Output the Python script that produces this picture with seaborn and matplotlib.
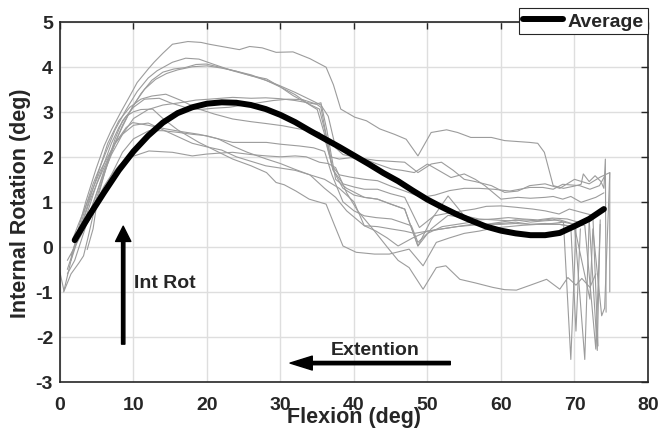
import matplotlib
matplotlib.use('agg')

import numpy as np
import pandas as pd
import matplotlib.pyplot as plt
import seaborn as sns

# individual trials (flexion deg, internal rotation deg)
t1_x = [0.5, 1.5, 2.5, 3.5, 4.9, 6.0, 7.0, 8.3, 9.5, 10.5, 12.0, 12.8, 14.0, 15.3, 17.4, 19.2, 20.3, 22.0, 24.4, 25.8,
        27.5, 29.4, 31.7, 34.0, 36.2, 37.2, 38.2, 40.1, 41.7, 43.5, 45.5, 47.1, 48.7, 50.5, 52.6, 54.1, 55.9, 58.7,
        60.5, 63.9, 65.0, 65.9, 67.1, 68.5, 70.0, 70.9, 71.2, 72.0, 72.8, 73.6, 74.0, 74.2, 74.3]
t1_y = [-1.0, -0.3, 0.4, 1.0, 1.73, 2.24, 2.6, 3.0, 3.35, 3.65, 3.95, 4.1, 4.3, 4.5, 4.56, 4.54, 4.5, 4.45, 4.38, 4.45,
        4.42, 4.32, 4.33, 4.18, 3.99, 3.6, 3.06, 2.88, 2.8, 2.62, 2.5, 2.39, 2.02, 2.54, 2.6, 2.54, 2.43, 2.43,
        2.36, 2.32, 2.3, 2.1, 1.36, 1.3, 1.35, 1.39, 1.62, 1.45, 1.58, 1.45, 1.3, 1.95, -1.45]

t2_x = [1.5, 2.5, 3.5, 4.5, 6, 7.5, 9, 10.5, 12, 13.2, 15.3, 17.1, 18.9, 20.8, 23.5, 26, 28.1, 30, 31.7, 33.5, 35.3,
        36.0, 36.8, 38, 39.5, 41.4, 43, 45, 46.9, 48.7, 50.5, 51.9, 53.5, 55, 56.5, 58.7, 60.5, 62.3, 63.9, 66, 68,
        70, 72, 73.5, 74.8, 74.8]
t2_y = [-0.2, 0.3, 0.9, 1.4, 2.0, 2.6, 3.05, 3.45, 3.75, 3.91, 4.1, 4.19, 4.17, 4.06, 3.91, 3.8, 3.73, 3.55, 3.36, 3.2,
        3.06, 2.6, 2.0, 1.95, 1.98, 1.96, 1.92, 1.9, 1.88, 1.65, 1.84, 1.88, 1.7, 1.5, 1.45, 1.36, 1.21, 1.24, 1.36,
        1.4, 1.3, 1.5, 1.4, 1.55, 1.65, -1.0]

t3_x = [1.0, 2, 3, 4, 5, 6.5, 8, 9.5, 11, 12.5, 14, 15.5, 17, 18.5, 19.9, 22, 24, 26, 28, 29.9, 32, 34.4, 35.5, 36.5,
        37.5, 38.5, 40, 41.4, 43, 45.1, 46.5, 48.2, 50, 51.5, 53.2, 55, 56.5, 57.8, 60, 62.3, 64, 66, 67.1, 68.4,
        69.5, 70.9, 72.9, 74]
t3_y = [-0.5, 0.0, 0.5, 1.0, 1.4, 1.95, 2.5, 3.0, 3.4, 3.7, 3.88, 3.95, 3.98, 4.05, 4.06, 3.98, 3.9, 3.8, 3.7, 3.58,
        3.43, 3.24, 3.15, 2.9, 2.2, 2.05, 2.0, 1.95, 1.85, 1.73, 1.7, 1.65, 1.84, 1.7, 1.54, 1.62, 1.5, 1.36, 1.06,
        1.1, 1.08, 1.1, 1.12, 1.06, 1.12, 0.99, 1.1, 1.2]

t4_x = [2, 3, 4, 5, 6, 7, 8.5, 10, 11.5, 13, 14.5, 16, 18, 20, 22, 24, 26, 28, 30, 32, 34, 35, 36, 37, 38, 39.5, 41.4,
        43.2, 45, 46.9, 49.2, 51, 53, 55, 57, 59, 61.2, 63.9, 65.7, 67.1, 68.4, 70.7, 72.1, 73.4, 74.2]
t4_y = [0.1, 0.4, 0.6, 1.1, 1.6, 2.1, 2.7, 3.15, 3.5, 3.72, 3.85, 3.93, 4.0, 4.02, 3.97, 3.9, 3.82, 3.7, 3.55, 3.38,
        3.15, 3.05, 2.5, 1.8, 1.6, 1.55, 1.5, 1.47, 1.35, 1.24, 1.1, 1.15, 1.25, 1.3, 1.3, 1.28, 1.24, 1.32, 1.32,
        1.28, 1.39, 1.36, 1.28, 1.36, 1.6]

t5_x = [1.5, 2.5, 3.5, 4.5, 5.5, 6.5, 8, 9.5, 11, 12.5, 14.4, 16.5, 18.9, 21, 23.5, 26, 28, 30.3, 32.5, 35.3, 36.2,
        37.2, 38.5, 40, 41.4, 43.2, 45, 46.9, 48.9, 50.9, 53.2, 56.4, 58, 60, 62, 64.3, 66, 67.9, 69.3, 71.1, 72.5,
        73.2]
t5_y = [-0.3, 0.2, 0.8, 1.3, 1.8, 2.3, 2.8, 3.1, 3.28, 3.35, 3.39, 3.25, 3.06, 2.95, 2.84, 2.78, 2.74, 2.69, 2.62,
        2.54, 2.3, 1.7, 1.4, 1.33, 1.28, 1.28, 1.18, 1.1, 0.43, 0.69, 0.76, 0.84, 0.9, 0.91, 0.88, 0.84, 0.8, 0.73,
        0.84, 0.76, 0.7, -2.2]

t6_x = [2, 3, 4, 5, 6, 7, 8.5, 10, 12, 14, 16.7, 18.5, 20.3, 23.5, 26, 28, 30, 32, 34.8, 35.5, 36.3, 37.5, 39, 41.4,
        43.2, 45, 46.9, 48.7, 50.5, 52.8, 55, 57, 59, 61, 63, 65, 67, 68.5, 69.5, 70.2]
t6_y = [0.0, 0.3, 0.75, 1.2, 1.65, 2.05, 2.5, 2.85, 3.05, 3.15, 3.21, 3.26, 3.28, 3.32, 3.3, 3.31, 3.29, 3.25, 3.17,
        3.2, 2.6, 1.5, 1.3, 1.1, 1.06, 0.95, 0.84, 0.02, 0.6, 1.13, 0.69, 0.62, 0.6, 0.58, 0.6, 0.58, 0.62, 0.55,
        -2.5, 0.4]

t7_x = [1.0, 2, 3, 4, 5, 6, 7.5, 9, 9.9, 12, 14.4, 16.5, 18.9, 21, 23.5, 26, 28.1, 30, 32.6, 34.5, 36, 37, 38.5, 40,
        41.4, 43, 45.1, 47.8, 48.7, 50, 52, 54, 56, 58, 60, 62, 64, 66, 68, 70, 71.4, 72]
t7_y = [-0.6, -0.3, 0.2, 0.7, 1.2, 1.7, 2.3, 2.65, 2.76, 2.7, 2.62, 2.56, 2.5, 2.42, 2.32, 2.32, 2.32, 2.28, 2.24,
        2.2, 2.12, 1.6, 1.0, 0.8, 0.69, 0.65, 0.62, 0.47, 0.1, 0.3, 0.45, 0.5, 0.55, 0.5, 0.55, 0.6, 0.55, 0.58, 0.6,
        0.5, -2.5, 0.6]

t8_x = [2, 3, 4, 5, 6, 7, 8.5, 10, 12.1, 14, 16.2, 18, 19.9, 21.5, 23.5, 25.5, 28.1, 30, 32, 34, 36, 37.5, 39, 41.4,
        43, 44.5, 46, 48, 50, 52, 54, 56, 58, 60, 62, 64, 66, 68, 69.5, 70.2, 70.8]
t8_y = [0.1, 0.35, 0.6, 0.9, 1.25, 1.6, 2.1, 2.4, 2.58, 2.58, 2.54, 2.5, 2.47, 2.4, 2.24, 2.1, 1.95, 1.85, 1.72, 1.6,
        1.3, 1.1, 0.8, 0.47, 0.35, 0.2, 0.02, 0.2, 0.35, 0.4, 0.45, 0.5, 0.5, 0.52, 0.55, 0.5, 0.52, 0.5, 0.45,
        -1.87, 0.4]

t9_x = [3.7, 4.5, 5.1, 6, 7, 8, 9, 10.1, 12.1, 15.3, 18, 19.9, 21.5, 23.5, 26, 28.1, 30, 32, 33.5, 35.3, 36.5, 37.5,
        39, 40.5, 42.6, 44.5, 46, 47.5, 49.4, 51.2, 52.5, 54.4, 56.5, 58.9, 60.5, 62.1, 64, 66.2, 68, 69.1, 70.2,
        71, 72.1, 72.9]
t9_y = [-0.06, 0.4, 1.06, 1.35, 1.6, 1.8, 1.95, 2.02, 2.13, 2.1, 2.02, 2.06, 2.08, 2.1, 2.05, 2.02, 2.0, 2.02, 2.0,
        1.88, 1.85, 1.76, 1.2, 0.8, 0.39, 0.0, -0.3, -0.46, -0.94, -0.46, -0.42, -0.72, -0.8, -0.9, -0.95, -0.96,
        -0.85, -0.72, -0.94, -0.68, -0.85, -0.7, -0.9, -0.6]

t10_x = [1.0, 2, 3, 4, 5, 6, 7, 8, 9, 10, 11, 12.6, 14, 16, 18.9, 21, 23.5, 26, 28.1, 29.4, 30.5, 32.1, 33.9, 36.2,
         37.3, 38.5, 40.3, 42.8, 44.8, 47.5, 49.4, 51.2, 53, 55, 57, 59, 61, 63, 65, 67, 68.5, 70, 71.4, 72.9, 73.5]
t10_y = [-0.3, 0.0, 0.4, 0.9, 1.4, 1.85, 2.3, 2.65, 2.9, 3.0, 3.05, 3.06, 2.85, 2.6, 2.32, 2.15, 1.95, 1.8, 1.65,
         1.43, 1.38, 1.24, 1.06, 0.95, 0.5, 0.02, -0.12, -0.16, -0.16, -0.05, -0.42, 0.1, 0.2, 0.3, 0.35, 0.42,
         0.45, 0.48, 0.5, 0.52, 0.55, 0.5, 0.48, -2.27, 0.5]

t11_x = [0.0, 0.55, 1.5, 2.6, 3.2, 3.8, 4.5, 5.5, 6.5, 7.5, 8.5, 10, 11.5, 13.5, 15, 17, 19, 21, 23, 25, 27, 29, 31,
         33, 34.9, 35.5, 36.2, 37.1, 38.5, 40, 41.4, 43.2, 45, 46.9, 48.7, 50.5, 52.8, 55, 57, 59, 61, 63, 65, 67,
         69, 70.5, 72, 73.1, 73.5]
t11_y = [-0.57, -0.98, -0.6, -0.35, -0.2, 0.2, 0.7, 1.3, 1.9, 2.4, 2.8, 3.1, 3.28, 3.3, 3.2, 3.1, 3.05, 3.08, 3.1,
         3.15, 3.2, 3.25, 3.28, 3.27, 3.17, 3.1, 2.5, 1.72, 1.3, 1.15, 1.1, 1.06, 0.95, 0.84, 0.02, 0.4, 0.7, 0.65,
         0.6, 0.62, 0.65, 0.62, 0.6, 0.64, 0.62, 0.55, 0.6, -2.3, 0.6]

t12_x = [1.8, 2.5, 3.5, 4.5, 5.5, 6.5, 7.5, 8.5, 10, 12, 14, 16, 18, 20, 22, 24, 26, 28, 30, 32, 34, 36, 38, 40, 41.4,
         43.2, 45, 46.9, 48.2, 50, 52, 54, 56, 58, 60, 62, 64, 66, 68, 70, 72.1, 72.5, 73.7, 74.1, 74.8]
t12_y = [0.2, 0.5, 0.9, 1.3, 1.7, 2.0, 2.3, 2.5, 2.7, 2.75, 2.6, 2.45, 2.3, 2.22, 2.15, 2.0, 1.9, 1.8, 1.75, 1.7,
         1.6, 1.5, 1.3, 1.0, 0.47, 0.45, 0.4, 0.35, 0.3, 0.35, 0.4, 0.45, 0.48, 0.5, 0.5, 0.52, 0.5, 0.5, 0.5, 0.45,
         -1.16, 0.4, -1.53, -1.36, 1.65]

# average curve
avg_x = [2, 4, 6, 8, 10, 12, 14, 16, 18, 20, 22, 24, 26, 28, 30, 32, 34, 36, 38, 40, 42, 44, 46, 48, 50, 52, 54, 56,
         58, 60, 62, 64, 66, 68, 70, 72, 74]
avg_y = [0.15, 0.7, 1.21, 1.7, 2.12, 2.47, 2.76, 2.97, 3.1, 3.18, 3.21, 3.2, 3.15, 3.06, 2.93, 2.77, 2.58, 2.4, 2.22,
         2.03, 1.84, 1.64, 1.46, 1.25, 1.05, 0.88, 0.72, 0.58, 0.45, 0.36, 0.3, 0.26, 0.26, 0.31, 0.46, 0.62, 0.84]

trials_x = [t1_x, t2_x, t3_x, t4_x, t5_x, t6_x, t7_x, t8_x, t9_x, t10_x, t11_x, t12_x]
trials_y = [t1_y, t2_y, t3_y, t4_y, t5_y, t6_y, t7_y, t8_y, t9_y, t10_y, t11_y, t12_y]

rows = []
for i, (xs, ys) in enumerate(zip(trials_x, trials_y)):
    for k, (a, b) in enumerate(zip(xs, ys)):
        rows.append((i, k, a, b))
df = pd.DataFrame(rows, columns=['trial', 'order', 'flexion', 'rotation'])

sns.set_theme(style='whitegrid')
plt.rcParams['font.family'] = ['Liberation Sans', 'DejaVu Sans']
plt.rcParams['font.weight'] = 'bold'
plt.rcParams['axes.labelweight'] = 'bold'
plt.rcParams['axes.unicode_minus'] = False

fig = plt.figure(figsize=(6.6, 4.31), dpi=100)
ax = fig.add_axes([0.0909, 0.1114, 0.8909, 0.8359])

sns.lineplot(data=df, x='flexion', y='rotation', units='trial', estimator=None, sort=False,
             color='#9c9c9c', lw=0.8, ax=ax, legend=False)
sns.lineplot(x=avg_x, y=avg_y, color='black', lw=4.3, ax=ax, label='Average', sort=False)

ax.set_xlim(0, 80)
ax.set_ylim(-3, 5)
ax.set_xticks(range(0, 81, 10))
ax.set_yticks(range(-3, 6))
ax.grid(True, color='#dedede', lw=1.0)
for s in ax.spines.values():
    s.set_color('#262626')
    s.set_linewidth(1.2)
    s.set_visible(True)
ax.tick_params(direction='in', length=5, width=1, colors='#262626', top=True, right=True,
               labelsize=14, labelcolor='#262626')
ax.tick_params(axis='x', pad=10)
ax.tick_params(axis='y', pad=5)
for lab in ax.get_xticklabels() + ax.get_yticklabels():
    lab.set_fontweight('bold')

ax.set_xlabel('Flexion (deg)', fontsize=15.5, fontweight='bold', color='#262626')
ax.xaxis.set_label_coords(0.5, -0.067)
ax.set_ylabel('Internal Rotation (deg)', fontsize=15.5, fontweight='bold', color='#262626', va='center')
ax.yaxis.set_label_coords(-0.068, 0.5)

# arrows + annotation text
ax.annotate('', xy=(8.6, 0.46), xytext=(8.6, -2.16),
            arrowprops=dict(facecolor='black', edgecolor='black', width=2.4, headwidth=11, headlength=11, shrink=0))
ax.annotate('', xy=(31.3, -2.58), xytext=(53.1, -2.58),
            arrowprops=dict(facecolor='black', edgecolor='black', width=2.4, headwidth=10, headlength=16, shrink=0))
ax.text(10.1, -0.78, 'Int Rot', fontsize=14, fontweight='bold', va='center', ha='left')
ax.text(36.9, -2.27, 'Extention', fontsize=14, fontweight='bold', va='center', ha='left')

leg = ax.legend(loc='upper right', bbox_to_anchor=(1.0, 1.039), borderaxespad=0, fancybox=False,
                framealpha=1, edgecolor='#262626', fontsize=14, handlelength=2.05, handletextpad=0.25,
                borderpad=0.22)
leg.get_frame().set_linewidth(0.8)
for t in leg.get_texts():
    t.set_fontweight('bold')

fig.savefig('out.png', dpi=100)
